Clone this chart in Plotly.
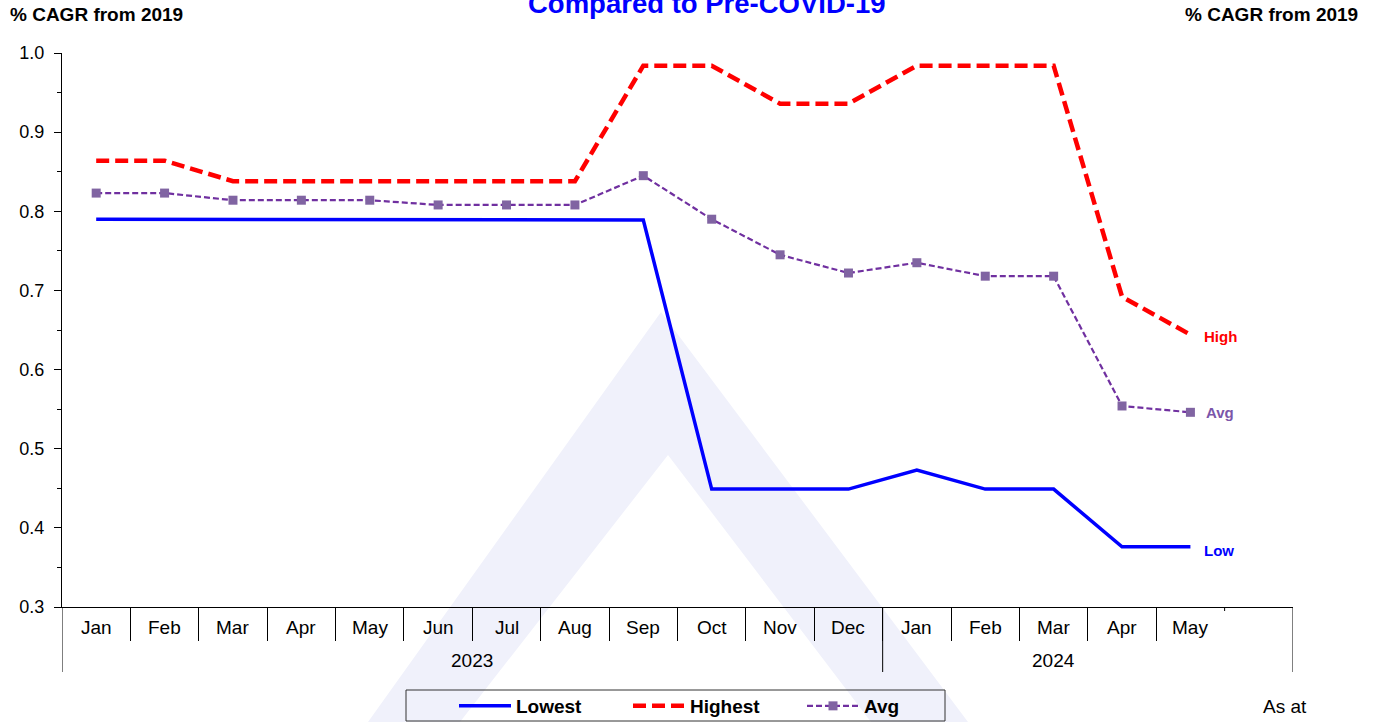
import plotly.graph_objects as go

# ---------------- data ----------------
months = ["Jan", "Feb", "Mar", "Apr", "May", "Jun", "Jul", "Aug", "Sep", "Oct", "Nov", "Dec",
          "Jan", "Feb", "Mar", "Apr", "May"]
month_year = ["2023"] * 12 + ["2024"] * 5
years = ["2023", "2024"]

lowest = [0.790, 0.790, 0.790, 0.789, 0.789, 0.789, 0.789, 0.789, 0.789, 0.449, 0.449, 0.449,
          0.473, 0.449, 0.449, 0.376, 0.376]
highest = [0.864, 0.864, 0.838, 0.838, 0.838, 0.838, 0.838, 0.838, 0.984, 0.984, 0.936, 0.936,
           0.984, 0.984, 0.984, 0.692, 0.644]
avg = [0.823, 0.823, 0.814, 0.814, 0.814, 0.808, 0.808, 0.808, 0.845, 0.790, 0.745, 0.722,
       0.735, 0.718, 0.718, 0.554, 0.546]

y_range = [0.3, 1.0]
title_text = "Compared to Pre-COVID-19"
axis_title = "% CAGR from 2019"

# ---------------- styling ----------------
FONT = "Liberation Sans, Arial, sans-serif"
BLUE = "#0000FF"
RED = "#FF0000"
PURPLE_LINE = "#7030A0"
PURPLE_MARK = "#8064A2"
PURPLE_TEXT = "#7B56AA"
WM = "#F0F1FB"

W, H = 1379, 722
ML, MR, MT, MB = 62, 86, 53, 115
PW, PH = W - ML - MR, H - MT - MB

def px(xp):
    return (xp - ML) / PW

def py(yp):
    return (H - MB - yp) / PH

x = list(range(len(months)))
n_slots = len(months) + 1  # one empty slot on the right

fig = go.Figure()
fig.add_trace(go.Scatter(x=x, y=lowest, name="Lowest", mode="lines",
                         line=dict(color=BLUE, width=3.5)))
fig.add_trace(go.Scatter(x=x, y=highest, name="Highest", mode="lines",
                         line=dict(color=RED, width=4.5, dash="13px,6px")))
fig.add_trace(go.Scatter(x=x, y=avg, name="Avg", mode="lines+markers",
                         line=dict(color=PURPLE_LINE, width=2.2, dash="6px,3px"),
                         marker=dict(symbol="square", size=9, color=PURPLE_MARK)))

annotations = []
# month labels
for i, m in enumerate(months):
    annotations.append(dict(x=i, y=py(627.5), xref="x", yref="paper", text=m, showarrow=False,
                            xanchor="center", yanchor="middle",
                            font=dict(family=FONT, size=19, color="black")))
# year labels
for yr in years:
    idx = [i for i, v in enumerate(month_year) if v == yr]
    annotations.append(dict(x=sum(idx) / len(idx), y=py(660.5), xref="x", yref="paper", text=yr,
                            showarrow=False, xanchor="center", yanchor="middle",
                            font=dict(family=FONT, size=19, color="black")))
# end labels
last = len(months) - 1
for txt, vals, col, xs, ys in [("High", highest, RED, 12, -2), ("Avg", avg, PURPLE_TEXT, 14, 0),
                               ("Low", lowest, BLUE, 12, -4)]:
    annotations.append(dict(x=last, y=vals[last], xref="x", yref="y", text=f"<b>{txt}</b>",
                            showarrow=False, xanchor="left", yanchor="middle", xshift=xs, yshift=ys,
                            font=dict(family=FONT, size=15, color=col)))
# title & axis titles
annotations.append(dict(x=px(707), y=py(3.0), xref="paper", yref="paper",
                        text=f"<b>{title_text}</b>", showarrow=False, xanchor="center",
                        yanchor="middle", font=dict(family=FONT, size=27.5, color=BLUE)))
annotations.append(dict(x=px(8), y=py(15), xref="paper", yref="paper",
                        text=f"<b>{axis_title}</b>", showarrow=False, xanchor="left",
                        yanchor="middle", font=dict(family=FONT, size=19, color="black")))
annotations.append(dict(x=px(1360), y=py(15), xref="paper", yref="paper",
                        text=f"<b>{axis_title}</b>", showarrow=False, xanchor="right",
                        yanchor="middle", font=dict(family=FONT, size=19, color="black")))
annotations.append(dict(x=px(1285), y=py(706), xref="paper", yref="paper", text="As at",
                        showarrow=False, xanchor="center", yanchor="middle",
                        font=dict(family=FONT, size=19, color="black")))

shapes = []
# watermark
outer = [(661, 312), (968, 722), (368, 722)]
inner = [(668, 455), (871, 722), (460, 722)]
def path_of(pts):
    return "M " + " L ".join(f"{px(a):.5f},{py(b):.5f}" for a, b in pts) + " Z"
shapes.append(dict(type="path", xref="paper", yref="paper",
                   path=path_of(outer) + " " + path_of(inner[::-1]),
                   fillcolor=WM, line=dict(width=0), layer="below", fillrule="evenodd"))
# long group dividers
year_bounds = [-0.5, month_year.index("2024") - 0.5, n_slots - 0.5]
for xb in year_bounds:
    shapes.append(dict(type="line", xref="x", yref="paper", x0=xb, x1=xb, y0=0, y1=py(672),
                       line=dict(color="black", width=1)))
# tiny tick before the empty slot
shapes.append(dict(type="line", xref="x", yref="paper", x0=last + 0.5, x1=last + 0.5, y0=0,
                   y1=py(611), line=dict(color="black", width=1)))
# legend frame
shapes.append(dict(type="rect", xref="paper", yref="paper", x0=px(406), x1=px(945),
                   y0=py(690), y1=py(721), line=dict(color="#333333", width=1),
                   fillcolor="rgba(0,0,0,0)", layer="above"))

tick_font = dict(family=FONT, size=18, color="black")
fig.update_layout(
    width=W, height=H,
    margin=dict(l=ML, r=MR, t=MT, b=MB, pad=0, autoexpand=False),
    paper_bgcolor="white", plot_bgcolor="rgba(0,0,0,0)",
    showlegend=True,
    hovermode=False,
    legend=dict(orientation="h", xref="container", yref="container",
                x=454 / W, y=1 - 687 / H, xanchor="left", yanchor="top",
                bgcolor="rgba(0,0,0,0)", borderwidth=0,
                font=dict(family=FONT, size=19, color="black", weight="bold"),
                itemwidth=52, entrywidth=107, itemclick=False),
    xaxis=dict(range=[-0.5, n_slots - 0.5], showgrid=False, zeroline=False,
               showline=True, linecolor="black", linewidth=1,
               tickmode="array", tickvals=[i + 0.5 for i in range(last)],
               ticks="outside", ticklen=33, tickcolor="black", tickwidth=1,
               showticklabels=False, fixedrange=True),
    yaxis=dict(range=y_range, dtick=0.1, tick0=0.3, tickformat=".1f", showgrid=False,
               zeroline=False, showline=True, linecolor="black", linewidth=1,
               ticks="outside", ticklen=7, tickcolor="black", tickfont=tick_font,
               ticklabelstandoff=6,
               minor=dict(dtick=0.05, tick0=0.3, ticks="outside", ticklen=4, tickcolor="black",
                          showgrid=False)),
    yaxis2=dict(range=y_range, dtick=0.1, tick0=0.3, tickformat=".1f", showgrid=False,
                zeroline=False, showline=True, linecolor="black", linewidth=1,
                overlaying="y", side="right", anchor="x",
                ticks="outside", ticklen=7, tickcolor="black", tickfont=tick_font,
                ticklabelstandoff=6,
                minor=dict(dtick=0.05, tick0=0.3, ticks="outside", ticklen=4, tickcolor="black",
                           showgrid=False)),
    annotations=annotations,
    shapes=shapes,
)

fig.write_html("out.html", config={"displayModeBar": False, "staticPlot": True},
               post_script="document.body.style.margin='0';document.body.style.overflow='hidden';")
